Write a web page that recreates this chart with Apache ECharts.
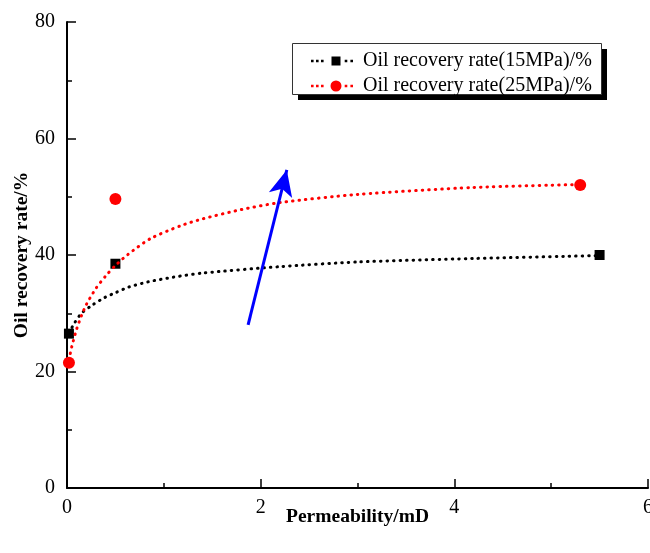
<!doctype html>
<html lang="en">
<head>
<meta charset="utf-8"/>
<title>Oil recovery rate vs permeability</title>
<style>
  html, body { margin: 0; padding: 0; background: #fff; }
  #chart { width: 650px; height: 553px; }
</style>
</head>
<body>
<div id="chart"></div>
<script src="https://cdn.jsdelivr.net/npm/echarts@6/dist/echarts.min.js"></script>
<script>
  // measured points
  const pts15 = [[0.02, 26.5], [0.5, 38.5], [5.5, 40.0]];
  const pts25 = [[0.02, 21.5], [0.5, 49.6], [5.3, 52.0]];

  // fitted curves
  const fit15 = [
    [0.02, 26.6], [0.08, 28.4], [0.15, 30.0], [0.27, 31.5], [0.39, 32.7],
    [0.51, 33.6], [0.64, 34.5], [0.84, 35.4], [1.1, 36.2], [1.4, 36.9],
    [2.2, 38.0], [3.0, 38.8], [4.2, 39.4], [5.5, 39.9],
  ];
  const fit25 = [
    [0.02, 22.0], [0.05, 24.3], [0.1, 27.3], [0.15, 29.6], [0.2, 31.5],
    [0.3, 34.3], [0.4, 36.4], [0.5, 38.2], [0.63, 40.1], [0.86, 42.8],
    [1.17, 45.0], [1.4, 46.2], [1.8, 47.8], [2.2, 49.0], [3.0, 50.4],
    [4.2, 51.6], [5.3, 52.1],
  ];

  // blue trend arrow (from, to)
  const arrow = [[1.87, 28.0], [2.27, 54.6]];

  const names = ["Oil recovery rate(15MPa)/%", "Oil recovery rate(25MPa)/%"];
  const FONT = "'Liberation Serif', 'Times New Roman', serif";

  // legend glyphs: dots, marker, dots (42 x 11 box)
  const tiny = "M0,0L0.01,0L0,0.01Z M42,11L41.99,11L42,10.99Z ";
  const dots = "M0,4.2h2.6v2.6h-2.6z M5,4.2h2.6v2.6h-2.6z M10,4.2h2.6v2.6h-2.6z " +
               "M33.7,4.2h2.6v2.6h-2.6z M39.4,4.2h2.6v2.6h-2.6z ";
  const iconSquare = "path://" + tiny + dots + "M20.5,1h9v9h-9z";
  const iconCircle = "path://" + tiny + dots +
    "M19.5,5.5a5.5,5.5 0 1 0 11,0a5.5,5.5 0 1 0 -11,0z";

  const dotted = (color) => ({ color, width: 3, type: [0.5, 6], cap: "round" });

  const axisCommon = {
    nameLocation: "middle", nameMoveOverlap: false,
    nameTextStyle: { fontFamily: FONT, fontSize: 19.5, fontWeight: "bold", color: "#000" },
    axisLine: { show: true, lineStyle: { color: "#000", width: 2 } },
    axisTick: { show: true, inside: true, length: 9, lineStyle: { color: "#000", width: 1.5 } },
    minorTick: { show: true, splitNumber: 2, length: 5, lineStyle: { color: "#000", width: 1.5 } },
    splitLine: { show: false },
  };

  const chart = echarts.init(document.getElementById("chart"));
  chart.setOption({
    animation: false,
    backgroundColor: "#fff",
    grid: { left: 67, right: 2, top: 22, bottom: 65, containLabel: false, outerBoundsMode: "none" },
    xAxis: Object.assign({
      type: "value", min: 0, max: 6, interval: 2,
      name: "Permeability/mD", nameGap: 19,
      axisLabel: { fontFamily: FONT, fontSize: 20, color: "#000", margin: 10 },
    }, axisCommon),
    yAxis: Object.assign({
      type: "value", min: 0, max: 80, interval: 20,
      name: "Oil recovery rate/%", nameGap: 35,
      axisLabel: { fontFamily: FONT, fontSize: 20, color: "#000", margin: 12 },
    }, axisCommon),
    graphic: [
      { type: "rect", z: 1, shape: { x: 298, y: 49, width: 309, height: 51 },
        style: { fill: "#000" } },
      { type: "rect", z: 2, shape: { x: 292.5, y: 43.5, width: 309, height: 51 },
        style: { fill: "#fff", stroke: "#333", lineWidth: 1 } },
    ],
    legend: {
      orient: "vertical", left: 292, top: 43, z: 10,
      data: [
        { name: names[0], icon: iconSquare },
        { name: names[1], icon: iconCircle },
      ],
      itemWidth: 42, itemHeight: 11, itemGap: 5,
      padding: [8, 9, 0, 19],
      textStyle: { fontFamily: FONT, fontSize: 20, color: "#000", lineHeight: 20, padding: [0, 0, 0, 5] },
      selectedMode: false,
    },
    series: [
      { name: "fit15", type: "line", data: fit15, smooth: 0.25,
        symbol: "none", lineStyle: dotted("#000"), z: 2, silent: true },
      { name: names[0], type: "scatter", data: pts15, symbol: "rect", symbolSize: 10,
        itemStyle: { color: "#000", opacity: 1 }, z: 3 },
      { name: "fit25", type: "line", data: fit25, smooth: 0.25,
        symbol: "none", lineStyle: dotted("#ff0000"), z: 4, silent: true },
      { name: names[1], type: "scatter", data: pts25, symbol: "circle", symbolSize: 12,
        itemStyle: { color: "#ff0000", opacity: 1 }, z: 5,
        markLine: {
          silent: true, symbol: ["none", "arrow"], symbolSize: [18, 26],
          label: { show: false },
          lineStyle: { color: "#0000ff", width: 3, type: "solid" },
          data: [[{ coord: arrow[0] }, { coord: arrow[1] }]],
        },
      },
    ],
  });
</script>
</body>
</html>
